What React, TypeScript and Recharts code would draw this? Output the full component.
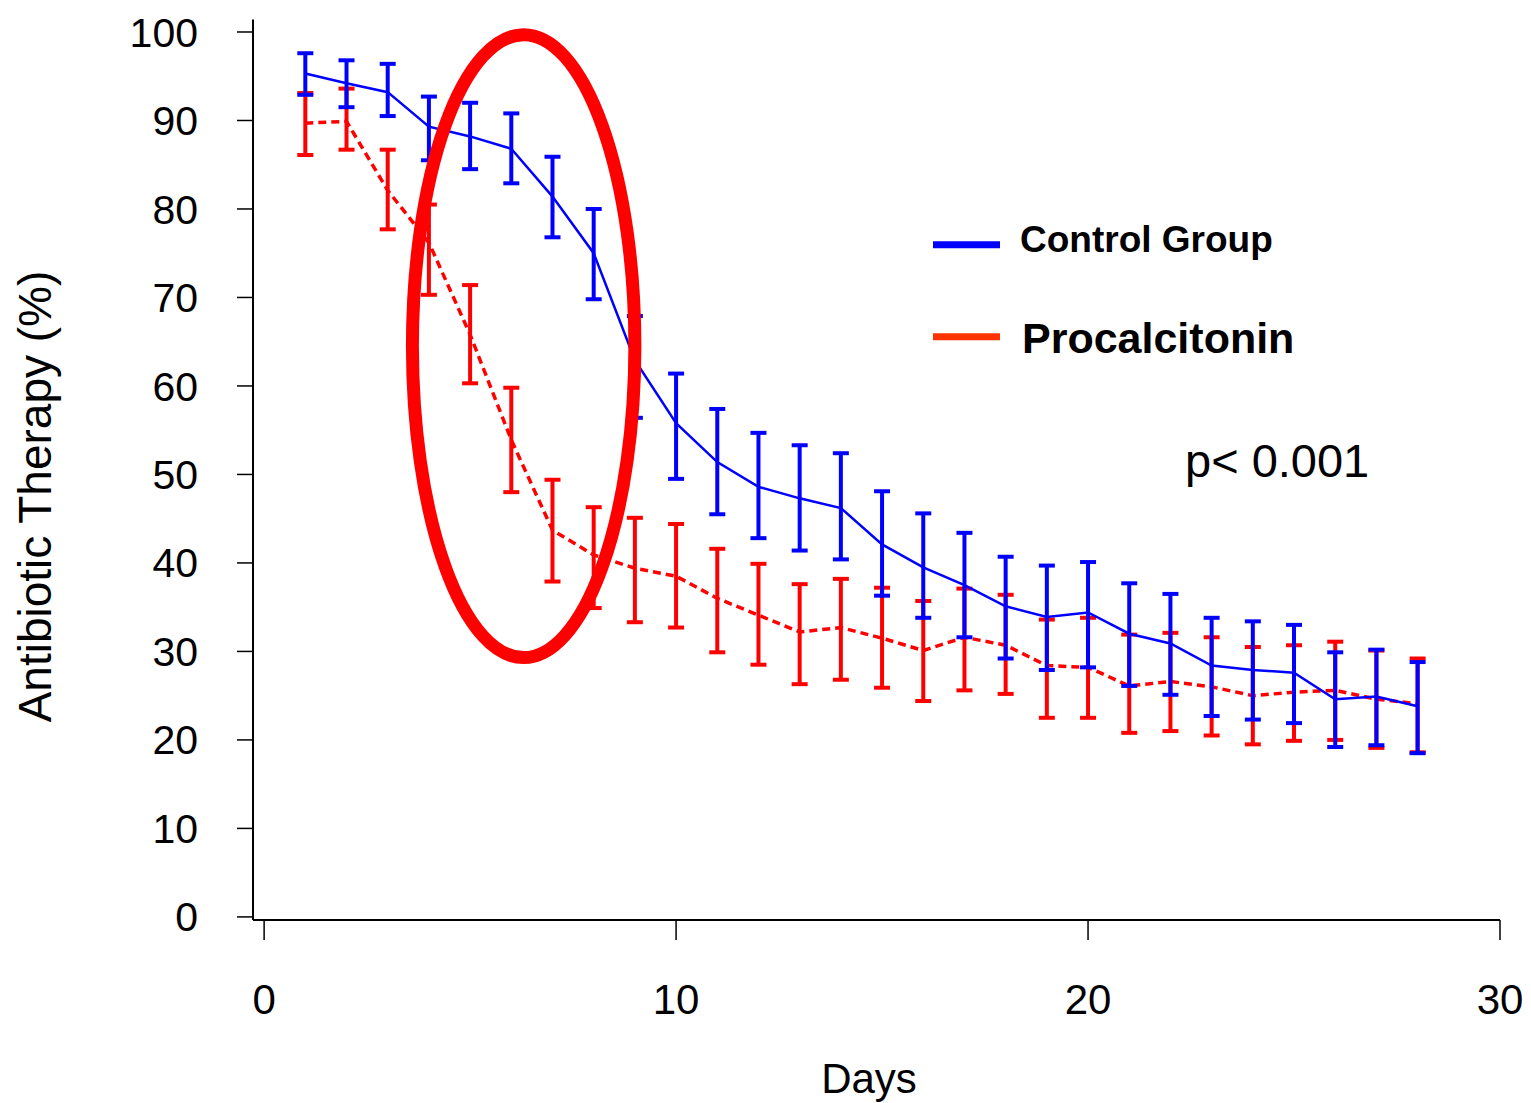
import React from "react";
import {
  LineChart,
  Line,
  XAxis,
  YAxis,
  ErrorBar,
  ReferenceArea,
  Label,
} from "recharts";

const days = [1, 2, 3, 4, 5, 6, 7, 8, 9, 10, 11, 12, 13, 14, 15, 16, 17, 18, 19, 20, 21, 22, 23, 24, 25, 26, 27, 28];

const controlMean = [95.3, 94.2, 93.2, 89.3, 88.2, 86.8, 81.4, 75.0, 62.9, 55.8, 51.4, 48.6, 47.3, 46.2, 42.1, 39.5, 37.5, 35.1, 33.9, 34.4, 32.0, 30.9, 28.4, 27.9, 27.6, 24.6, 24.9, 23.8];
const controlUpper = [97.6, 96.8, 96.4, 92.7, 92.0, 90.8, 85.9, 80.0, 67.9, 61.4, 57.4, 54.7, 53.3, 52.4, 48.1, 45.6, 43.4, 40.7, 39.7, 40.1, 37.7, 36.5, 33.8, 33.4, 33.0, 29.9, 30.2, 28.8];
const controlLower = [92.9, 91.5, 90.5, 85.5, 84.5, 82.9, 76.8, 69.8, 56.4, 49.5, 45.5, 42.8, 41.4, 40.4, 36.3, 33.8, 31.6, 29.2, 27.9, 28.2, 26.1, 25.1, 22.7, 22.3, 21.9, 19.2, 19.4, 18.5];

const pctMean = [89.7, 89.9, 82.1, 76.2, 65.8, 53.9, 43.7, 40.9, 39.4, 38.5, 36.0, 34.1, 32.2, 32.7, 31.5, 30.1, 31.6, 30.7, 28.4, 28.2, 26.1, 26.6, 26.0, 25.0, 25.4, 25.6, 24.6, 24.1];
const pctUpper = [93.1, 93.6, 86.7, 80.5, 71.4, 59.8, 49.4, 46.3, 45.1, 44.4, 41.6, 39.9, 37.6, 38.2, 37.2, 35.7, 37.1, 36.4, 33.6, 33.8, 31.9, 32.1, 31.6, 30.5, 30.7, 31.1, 30.1, 29.2];
const pctLower = [86.1, 86.7, 77.7, 70.3, 60.3, 48.0, 37.9, 34.9, 33.3, 32.7, 29.9, 28.5, 26.3, 26.8, 25.9, 24.4, 25.6, 25.2, 22.5, 22.5, 20.8, 21.0, 20.5, 19.5, 19.9, 20.0, 19.1, 18.6];

const xTicks = [0, 10, 20, 30];
const yTicks = [0, 10, 20, 30, 40, 50, 60, 70, 80, 90, 100];

// highlighted window (days / %)
const highlight = { x1: 3.6, x2: 9.0, y1: 29.3, y2: 99.7 };

const data = days.map((day, i) => ({
  day,
  control: controlMean[i],
  controlErr: [controlMean[i] - controlLower[i], controlUpper[i] - controlMean[i]],
  pct: pctMean[i],
  pctErr: [pctMean[i] - pctLower[i], pctUpper[i] - pctMean[i]],
}));

const FONT = "'Liberation Sans', Arial, Helvetica, sans-serif";

const Ellipse = (props: any) => {
  const { x, y, width, height } = props;
  return (
    <ellipse
      cx={x + width / 2}
      cy={y + height / 2}
      rx={Math.abs(width) / 2}
      ry={Math.abs(height) / 2}
      fill="none"
      stroke="#ff0000"
      strokeWidth={13}
    />
  );
};

export default function App() {
  return (
    <div style={{ position: "relative", width: 1515, height: 1095, fontFamily: FONT }}>
      <LineChart
        width={1515}
        height={1095}
        data={data}
        margin={{ top: 11.6, right: 23, bottom: 83, left: 45 }}
      >
        <XAxis
          type="number"
          dataKey="day"
          domain={[-0.27, 30]}
          ticks={xTicks}
          height={100}
          stroke="#000"
          strokeWidth={2}
          tickSize={20}
          tickMargin={44}
          tick={{ fill: "#000", fontSize: 42, fontFamily: FONT }}
          tickLine={{ stroke: "#000", strokeWidth: 1.5 }}
        >
          <Label
            content={() => (
              <text x={861} y={1085} textAnchor="middle" fontSize={42} fontFamily={FONT} fill="#000">
                Days
              </text>
            )}
          />
        </XAxis>
        <YAxis
          type="number"
          domain={[-0.35, 101.4]}
          ticks={yTicks}
          width={200}
          stroke="#000"
          strokeWidth={2}
          tickSize={16}
          tickMargin={39}
          tick={{ fill: "#000", fontSize: 41, fontFamily: FONT }}
          tickLine={{ stroke: "#000", strokeWidth: 1.5 }}
        >
          <Label
            content={() => (
              <text
                x={43}
                y={488.5}
                transform="rotate(-90, 43, 488.5)"
                textAnchor="middle"
                fontSize={46}
                fontFamily={FONT}
                fill="#000"
              >
                Antibiotic Therapy (%)
              </text>
            )}
          />
        </YAxis>
        <Line
          type="linear"
          dataKey="pct"
          stroke="#ff0000"
          strokeWidth={3.5}
          strokeDasharray="8 5"
          dot={false}
          isAnimationActive={false}
        >
          <ErrorBar dataKey="pctErr" direction="y" width={8} stroke="#ff0000" strokeWidth={4} />
        </Line>
        <Line
          type="linear"
          dataKey="control"
          stroke="#0000ff"
          strokeWidth={2.5}
          dot={false}
          isAnimationActive={false}
        >
          <ErrorBar dataKey="controlErr" direction="y" width={8} stroke="#0000ff" strokeWidth={4} />
        </Line>
        <ReferenceArea
          x1={highlight.x1}
          x2={highlight.x2}
          y1={highlight.y1}
          y2={highlight.y2}
          ifOverflow="visible"
          shape={<Ellipse />}
          zIndex={1000}
        />
      </LineChart>
      <svg
        width={1515}
        height={1095}
        style={{ position: "absolute", left: 0, top: 0, pointerEvents: "none" }}
      >
        <line x1={925} x2={992} y1={236.7} y2={236.7} stroke="#0000ff" strokeWidth={7} />
        <text x={1012} y={244} fontSize={37} fontWeight="bold" fontFamily={FONT} fill="#000">
          Control Group
        </text>
        <line x1={925} x2={992} y1={328.7} y2={328.7} stroke="#ff3300" strokeWidth={7} />
        <text x={1014} y={345} fontSize={43} fontWeight="bold" fontFamily={FONT} fill="#000">
          Procalcitonin
        </text>
        <text x={1177} y={469} fontSize={47} fontFamily={FONT} fill="#000">
          p&lt; 0.001
        </text>
      </svg>
    </div>
  );
}
